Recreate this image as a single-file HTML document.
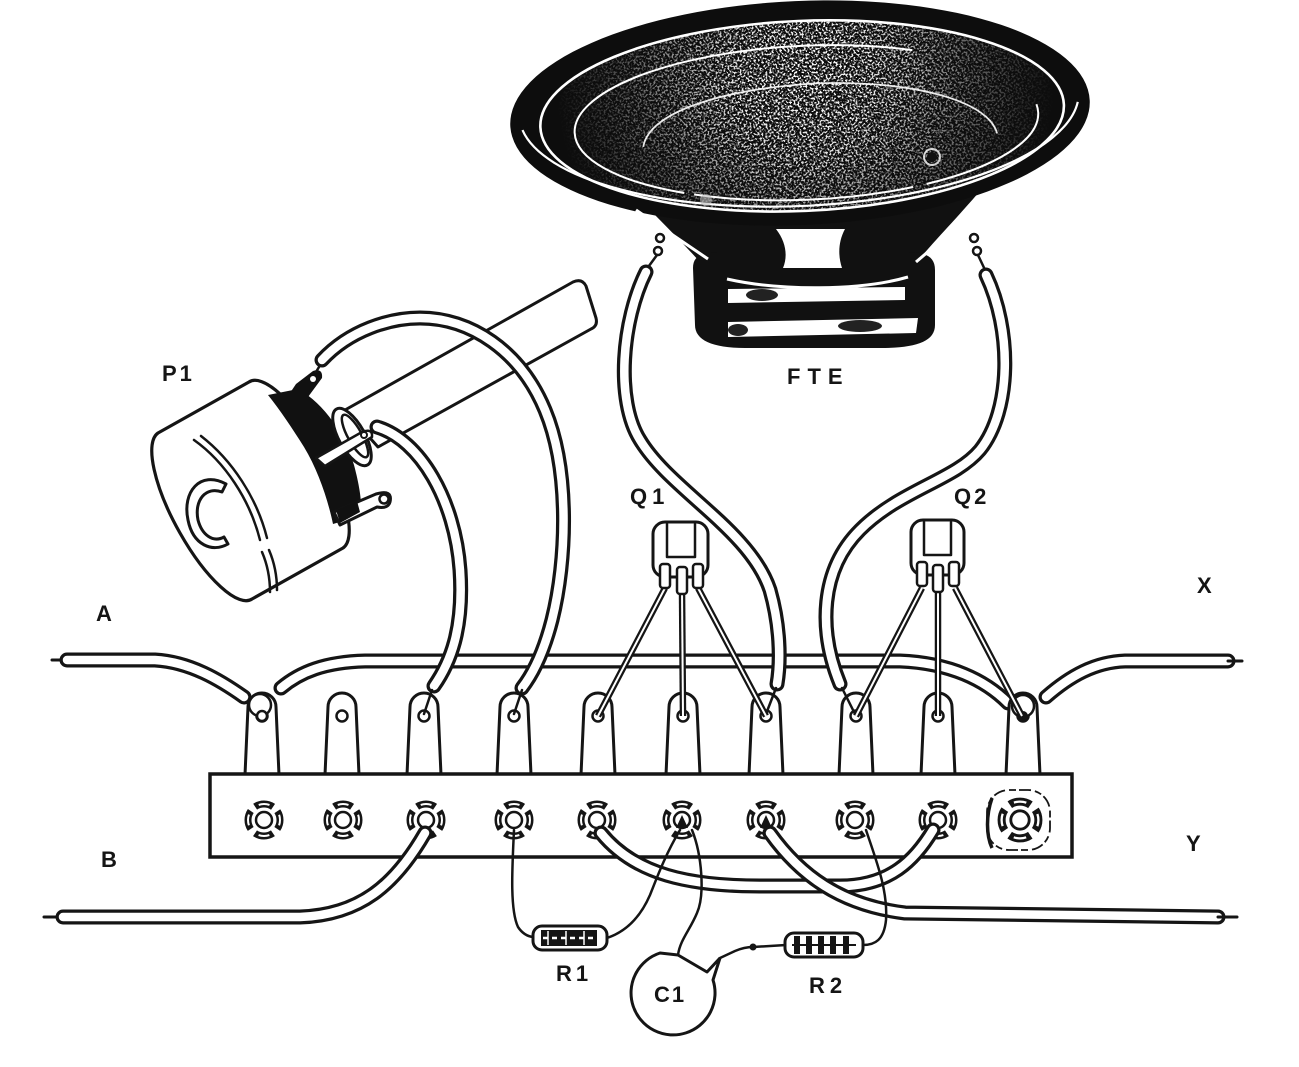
<!DOCTYPE html>
<html><head><meta charset="utf-8">
<style>
html,body{margin:0;padding:0;background:#fff;}
svg{display:block;}
.t{font-family:"Liberation Sans",Arial,sans-serif;font-weight:bold;font-size:22px;fill:#151515;}
.tb{fill:none;stroke:#151515;stroke-width:15;stroke-linecap:round;stroke-linejoin:round;}
.tw{fill:none;stroke:#fff;stroke-width:8.5;stroke-linecap:round;stroke-linejoin:round;}
.ln{fill:none;stroke:#151515;stroke-width:3;stroke-linecap:round;stroke-linejoin:round;}
.th{fill:none;stroke:#151515;stroke-width:2.5;stroke-linecap:round;stroke-linejoin:round;}
.lb{fill:none;stroke:#151515;stroke-width:6.5;}
.lw{fill:none;stroke:#fff;stroke-width:2;}
</style></head>
<body>
<svg width="1299" height="1067" viewBox="0 0 1299 1067" xmlns="http://www.w3.org/2000/svg">
<defs>
  <filter id="spk" x="0" y="0" width="1" height="1">
    <feTurbulence type="fractalNoise" baseFrequency="0.5" numOctaves="2" seed="7" result="n"/>
    <feColorMatrix in="n" type="matrix" values="0 0 0 0 1  0 0 0 0 1  0 0 0 0 1  14 0 0 0 -7.3"/>
  </filter>
  <radialGradient id="spg" gradientUnits="userSpaceOnUse" cx="805" cy="80" r="250">
    <stop offset="0" stop-color="#fff"/>
    <stop offset="0.3" stop-color="#e0e0e0"/>
    <stop offset="0.65" stop-color="#606060"/>
    <stop offset="1" stop-color="#000"/>
  </radialGradient>
  <mask id="spm"><rect x="500" y="0" width="600" height="240" fill="url(#spg)"/></mask>
  <clipPath id="conec"><ellipse cx="802" cy="116" rx="262" ry="95" transform="rotate(-2.5 800 113)"/></clipPath>
  <g id="scr">
    <circle r="16" fill="none" stroke="#151515" stroke-width="7" stroke-dasharray="19 6.13" stroke-dashoffset="9.5"/>
    <circle r="16" fill="none" stroke="#fff" stroke-width="2" stroke-dasharray="11 14.13" stroke-dashoffset="5.5"/>
    <circle r="8" fill="#fff" stroke="#151515" stroke-width="2.5"/>
  </g>
  <g id="lug">
    <path d="M-17,775 L-14,707 A14,14 0 0 1 14,707 L17,775" fill="#fff" stroke="#151515" stroke-width="3"/>
    <circle cx="0" cy="716" r="5.5" fill="#fff" stroke="#151515" stroke-width="2.5"/>
  </g>
</defs>

<rect width="1299" height="1067" fill="#fff"/>

<!-- ========== SPEAKER ========== -->
<!-- basket -->
<path d="M640,200 L985,185 C960,215 935,240 917,262 L700,262 C680,240 660,220 640,200 Z" fill="#111"/>
<!-- magnet -->
<path d="M693,268 C693,254 705,252 722,252 L905,252 C925,252 935,256 935,270 L935,325 C935,342 915,348 880,348 L745,348 C712,348 695,340 695,325 Z" fill="#111"/>
<path d="M727,279 C780,291 860,291 908,277" fill="none" stroke="#fff" stroke-width="3"/>
<path d="M728,289 L905,287 L905,300 L728,303 Z" fill="#fff"/>
<ellipse cx="762" cy="295" rx="16" ry="6" fill="#222"/>
<path d="M728,322 L918,318 L916,333 L728,337 Z" fill="#fff"/>
<ellipse cx="860" cy="326" rx="22" ry="6" fill="#222"/>
<ellipse cx="738" cy="330" rx="10" ry="6" fill="#222"/>
<!-- cone -->
<g transform="rotate(-2.5 800 113)">
  <ellipse cx="800" cy="113" rx="290" ry="112" fill="#0d0d0d"/>
</g>
<g clip-path="url(#conec)">
  <rect x="500" y="0" width="600" height="240" filter="url(#spk)" mask="url(#spm)"/>
</g>
<g transform="rotate(-2.5 800 113)" fill="none" stroke="#fff">
  <ellipse cx="802" cy="116" rx="262" ry="95" stroke-width="2.6"/>
  <ellipse cx="806" cy="123" rx="232" ry="77" stroke-width="2" stroke-dasharray="140 14 220 10 500"/>
  <path d="M642,140 C648,108 715,86 818,84 C925,86 990,112 996,142" stroke-width="1.8" opacity="0.9"/>
  <path d="M522,118 A280,102 0 0 0 1078,114" stroke-width="2.2"/>
</g>
<circle cx="932" cy="157" r="8" fill="none" stroke="#fff" stroke-width="2" opacity="0.8"/>
<circle cx="932" cy="157" r="5" fill="#111"/>
<circle cx="706" cy="200" r="6" fill="#bbb" opacity="0.6"/>
<!-- basket window and frame strips -->
<path d="M776,229 L845,229 C838,242 838,256 842,268 L783,268 C788,256 786,242 776,229 Z" fill="#fff"/>
<path d="M636,210 L708,259" stroke="#fff" stroke-width="3"/>
<path d="M984,204 L916,262" stroke="#fff" stroke-width="3"/>
<!-- speaker terminals -->
<circle cx="660" cy="238" r="4" fill="#fff" stroke="#151515" stroke-width="2.5"/>
<circle cx="658" cy="251" r="4" fill="#fff" stroke="#151515" stroke-width="2.5"/>
<path class="th" d="M657,255 L646,270"/>
<circle cx="974" cy="238" r="4" fill="#fff" stroke="#151515" stroke-width="2.5"/>
<circle cx="977" cy="251" r="4" fill="#fff" stroke="#151515" stroke-width="2.5"/>
<path class="th" d="M978,255 L986,272"/>

<!-- ========== POTENTIOMETER ========== -->
<!-- shaft -->
<path d="M345,410 L573,282 Q582,278 586,286 L596,318 Q598,326 591,329 L378,447 Z" fill="#fff" stroke="#151515" stroke-width="3" stroke-linejoin="round"/>
<!-- body -->
<path d="M158,433 L249,382 A30,95 -29 0 1 343,548 L252,599 A30,95 -29 0 1 158,433 Z" fill="#fff" stroke="#151515" stroke-width="3.2" stroke-linejoin="round"/>
<!-- front face highlights -->
<path d="M194,440 C225,462 250,500 260,540" class="th"/>
<path d="M201,436 C232,460 257,498 267,538" class="th"/>
<path d="M262,552 C268,566 270,580 270,592" class="th"/>
<path d="M269,550 C275,564 277,578 277,590" class="th"/>
<!-- C hole -->
<path d="M226,484 C200,470 182,492 188,520 C193,545 212,553 228,544 L224,537 C213,543 202,535 198,520 C194,500 206,486 222,492 Z" fill="#fff" stroke="#151515" stroke-width="3" stroke-linejoin="round"/>
<!-- bracket -->
<path d="M268,395 L298,389 C325,404 345,435 354,465 C362,495 362,510 360,516 L333,524 C328,500 318,470 304,447 C292,428 280,410 268,395 Z" fill="#111"/>
<!-- nut -->
<ellipse cx="352" cy="437" rx="13" ry="32" transform="rotate(-29 352 437)" fill="#fff" stroke="#151515" stroke-width="3"/>
<ellipse cx="355" cy="436" rx="7" ry="24" transform="rotate(-29 355 436)" fill="none" stroke="#151515" stroke-width="2.5"/>
<!-- terminals -->
<path d="M284,402 L296,384 L313,371 Q323,368 322,378 L308,397 L292,412 Z" fill="#111"/>
<circle cx="313" cy="379" r="3" fill="#fff"/>
<path d="M316,372 L322,362" class="th"/>
<path d="M316,458 L362,432 Q373,428 372,437 L325,466 Z" fill="#fff" stroke="#151515" stroke-width="2.5" stroke-linejoin="round"/>
<circle cx="364" cy="435" r="3" fill="none" stroke="#151515" stroke-width="2"/>
<path d="M334,512 L376,494 Q393,489 390,502 Q388,509 377,507 L340,525 Z" fill="#fff" stroke="#151515" stroke-width="3" stroke-linejoin="round"/>
<path d="M336,510 L357,501 L360,512 L340,523 Z" fill="#111"/>
<circle cx="384" cy="499" r="4.5" fill="#fff" stroke="#151515" stroke-width="2.5"/>

<!-- ========== A TUBES ========== -->
<path class="ln" d="M52,660 L67,660" stroke-width="4"/>
<path class="tb" d="M67,660 L155,660 C190,662 220,680 244,697"/>
<path class="tw" d="M67,660 L155,660 C190,662 220,680 244,697"/>
<path class="tb" d="M281,688 C300,672 325,662 365,661 L900,661 C950,663 985,680 1008,703"/>
<path class="tw" d="M281,688 C300,672 325,662 365,661 L900,661 C950,663 985,680 1008,703"/>
<path class="tb" d="M1046,697 C1070,676 1095,662 1125,661 L1228,661"/>
<path class="tw" d="M1046,697 C1070,676 1095,662 1125,661 L1228,661"/>
<path class="ln" d="M1228,661 L1242,661" stroke-width="4"/>

<!-- ========== LUGS ========== -->
<use href="#lug" x="262"/>
<use href="#lug" x="342"/>
<use href="#lug" x="424"/>
<use href="#lug" x="514"/>
<use href="#lug" x="598"/>
<use href="#lug" x="683"/>
<use href="#lug" x="766"/>
<use href="#lug" x="856"/>
<use href="#lug" x="938"/>
<use href="#lug" x="1023"/>
<circle cx="260" cy="705" r="11" fill="#fff" stroke="#151515" stroke-width="2.5"/>
<circle cx="262" cy="716" r="5" fill="#fff" stroke="#151515" stroke-width="2.5"/>
<circle cx="1023" cy="706" r="11" fill="#fff" stroke="#151515" stroke-width="2.5"/>
<circle cx="1023" cy="716" r="5" fill="#151515"/>

<!-- ========== STRIP ========== -->
<rect x="210" y="774" width="862" height="83" fill="#fff" stroke="#151515" stroke-width="3.5"/>
<use href="#scr" x="264" y="820"/>
<use href="#scr" x="343" y="820"/>
<use href="#scr" x="426" y="820"/>
<use href="#scr" x="514" y="820"/>
<use href="#scr" x="597" y="820"/>
<use href="#scr" x="682" y="820"/>
<use href="#scr" x="766" y="820"/>
<use href="#scr" x="855" y="820"/>
<use href="#scr" x="938" y="820"/>
<g transform="translate(1020 820) scale(1.15)"><use href="#scr"/></g>
<rect x="987" y="790" width="63" height="60" rx="22" fill="none" stroke="#151515" stroke-width="1.8" stroke-dasharray="7 3 12 4"/>
<path d="M992,798 C986,815 986,835 992,848" fill="none" stroke="#151515" stroke-width="3.5"/>
<path d="M676,828 L682,815 L688,828 Z" fill="#151515"/>
<path d="M760,828 L766,815 L772,828 Z" fill="#151515"/>

<!-- ========== POT WIRES ========== -->
<path class="tb" d="M322,360 C350,330 390,318 420,318 C470,318 520,350 545,410 C570,470 567,560 552,620 C543,655 532,675 522,688"/>
<path class="tw" d="M322,360 C350,330 390,318 420,318 C470,318 520,350 545,410 C570,470 567,560 552,620 C543,655 532,675 522,688"/>
<path class="th" d="M522,690 L514,714"/>
<path class="tb" d="M377,427 C420,440 455,500 460,570 C464,630 450,663 434,686"/>
<path class="tw" d="M377,427 C420,440 455,500 460,570 C464,630 450,663 434,686"/>
<path class="th" d="M432,690 L424,714"/>

<!-- ========== SPEAKER WIRES ========== -->
<path class="tb" d="M646,272 C622,320 615,400 640,440 C670,490 750,530 770,590 C780,625 781,660 777,684"/>
<path class="tw" d="M646,272 C622,320 615,400 640,440 C670,490 750,530 770,590 C780,625 781,660 777,684"/>
<path class="th" d="M776,688 L766,714"/>
<path class="tb" d="M986,275 C1012,330 1012,410 980,450 C955,480 900,490 860,530 C820,570 818,630 840,684"/>
<path class="tw" d="M986,275 C1012,330 1012,410 980,450 C955,480 900,490 860,530 C820,570 818,630 840,684"/>
<path class="th" d="M842,688 L855,714"/>

<!-- ========== TRANSISTORS ========== -->
<g>
  <path class="lb" d="M665,588 L598,716"/><path class="lw" d="M665,588 L598,716"/>
  <path class="lb" d="M682,590 L683,716"/><path class="lw" d="M682,590 L683,716"/>
  <path class="lb" d="M698,588 L766,716"/><path class="lw" d="M698,588 L766,716"/>
  <rect x="653" y="522" width="55" height="55" rx="12" fill="#fff" stroke="#151515" stroke-width="3"/>
  <path class="th" d="M667,524 L667,557 L695,557 L695,524"/>
  <rect x="660" y="564" width="10" height="24" rx="3" fill="#fff" stroke="#151515" stroke-width="2.5"/>
  <rect x="677" y="567" width="10" height="27" rx="3" fill="#fff" stroke="#151515" stroke-width="2.5"/>
  <rect x="693" y="564" width="10" height="24" rx="3" fill="#fff" stroke="#151515" stroke-width="2.5"/>
</g>
<g>
  <path class="lb" d="M922,588 L856,716"/><path class="lw" d="M922,588 L856,716"/>
  <path class="lb" d="M938,590 L938,716"/><path class="lw" d="M938,590 L938,716"/>
  <path class="lb" d="M955,588 L1022,716"/><path class="lw" d="M955,588 L1022,716"/>
  <rect x="911" y="520" width="53" height="55" rx="12" fill="#fff" stroke="#151515" stroke-width="3"/>
  <path class="th" d="M924,522 L924,555 L951,555 L951,522"/>
  <rect x="917" y="562" width="10" height="24" rx="3" fill="#fff" stroke="#151515" stroke-width="2.5"/>
  <rect x="933" y="565" width="10" height="27" rx="3" fill="#fff" stroke="#151515" stroke-width="2.5"/>
  <rect x="949" y="562" width="10" height="24" rx="3" fill="#fff" stroke="#151515" stroke-width="2.5"/>
</g>

<!-- ========== BOTTOM TUBES ========== -->
<path class="ln" d="M44,917 L63,917" stroke-width="4"/>
<path class="tb" d="M63,917 L300,917 C360,915 395,885 425,833"/>
<path class="tw" d="M63,917 L300,917 C360,915 395,885 425,833"/>
<path class="tb" d="M601,833 C635,875 690,886 760,886 L840,886 C890,886 915,860 933,830"/>
<path class="tw" d="M601,833 C635,875 690,886 760,886 L840,886 C890,886 915,860 933,830"/>
<path class="tb" d="M770,833 C800,875 840,905 905,913 L1218,917"/>
<path class="tw" d="M770,833 C800,875 840,905 905,913 L1218,917"/>
<path class="ln" d="M1218,917 L1237,917" stroke-width="4"/>

<!-- ========== R1, C1, R2 ========== -->
<path class="th" d="M514,830 C512,870 510,910 518,927 Q524,936 533,937"/>
<path class="th" d="M680,830 C665,855 656,880 650,895 C640,918 625,932 607,938"/>
<rect x="533" y="926" width="74" height="24" rx="9" fill="#fff" stroke="#151515" stroke-width="3"/>
<rect x="541" y="930" width="56" height="16" fill="#151515"/>
<path d="M543,938 L595,938" stroke="#fff" stroke-width="2.5" stroke-dasharray="5 4"/>
<path d="M548,931 L548,945 M566,931 L566,945 M584,931 L584,945" stroke="#fff" stroke-width="1.5"/>

<path class="th" d="M692,830 C702,855 705,895 697,913 C690,930 680,940 678,955"/>
<path d="M720,958 L713,980 A42,42 0 1 1 660,953 L678,955 L707,972 L720,958" fill="#fff" stroke="#151515" stroke-width="3" stroke-linejoin="round"/>
<path class="th" d="M720,958 L735,951 C742,948 748,947 753,947 L786,945"/>
<circle cx="753" cy="947" r="3.5" fill="#151515"/>

<path class="th" d="M866,830 C876,860 888,890 886,920 C884,940 875,945 863,945"/>
<rect x="785" y="933" width="78" height="24" rx="9" fill="#fff" stroke="#151515" stroke-width="3"/>
<path d="M797,936 L797,954 M809,936 L809,954 M821,936 L821,954 M833,936 L833,954 M846,936 L846,954" stroke="#151515" stroke-width="6"/>
<path d="M792,945 L856,945" stroke="#151515" stroke-width="2"/>

<!-- ========== LABELS ========== -->
<text class="t" x="162" y="381" letter-spacing="3">P1</text>
<text class="t" x="787" y="384" letter-spacing="7">FTE</text>
<text class="t" x="630" y="504" letter-spacing="5">Q1</text>
<text class="t" x="954" y="504" letter-spacing="3">Q2</text>
<text class="t" x="96" y="621">A</text>
<text class="t" x="101" y="867">B</text>
<text class="t" x="1197" y="593">X</text>
<text class="t" x="1186" y="851">Y</text>
<text class="t" x="556" y="981" letter-spacing="4">R1</text>
<text class="t" x="809" y="993" letter-spacing="5">R2</text>
<text class="t" x="654" y="1002" letter-spacing="2">C1</text>
</svg>
</body></html>
